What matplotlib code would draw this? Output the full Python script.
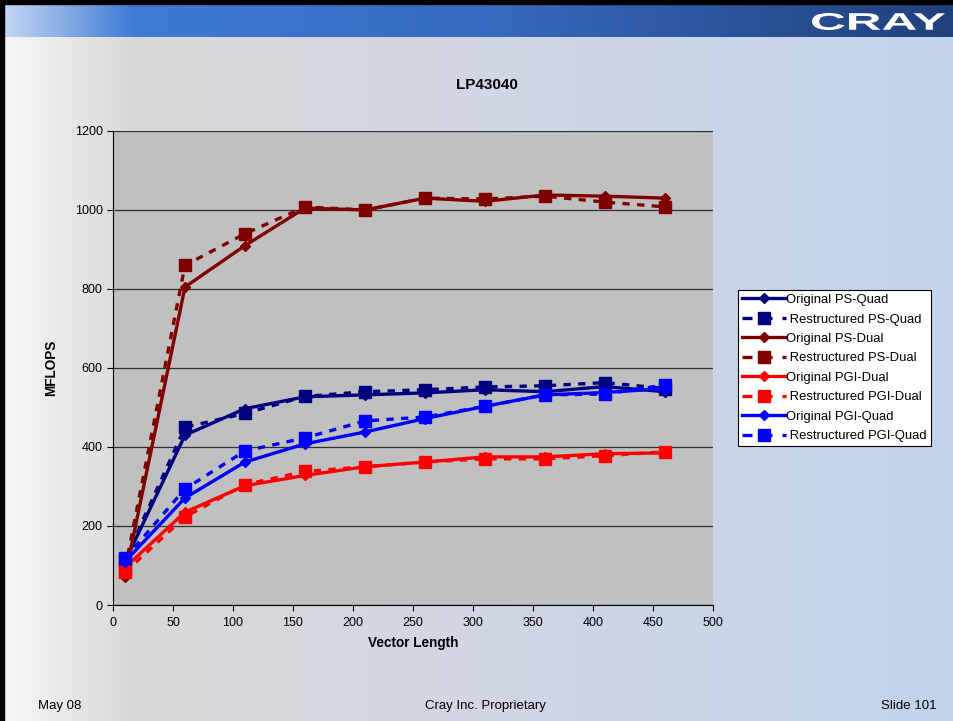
# LP43040 vector length vs MFLOPS slide

import numpy as np
import matplotlib.pyplot as plt
from matplotlib.lines import Line2D
from matplotlib.textpath import TextPath
from matplotlib.patches import PathPatch
from matplotlib.font_manager import FontProperties
from matplotlib.transforms import Affine2D

plt.rcParams['font.family'] = ['Liberation Sans', 'DejaVu Sans']

vector_length = [10, 60, 110, 160, 210, 260, 310, 360, 410, 460]

orig_ps_quad = [110, 430, 497, 527, 532, 537, 545, 540, 553, 540]
rest_ps_quad = [115, 450, 485, 528, 540, 545, 552, 555, 563, 548]
orig_ps_dual = [72, 805, 910, 1005, 1000, 1030, 1022, 1038, 1035, 1030]
rest_ps_dual = [90, 860, 940, 1008, 1000, 1030, 1028, 1035, 1020, 1008]
orig_pgi_dual = [95, 235, 302, 328, 350, 362, 375, 375, 383, 385]
rest_pgi_dual = [83, 223, 305, 338, 350, 362, 370, 370, 378, 388]
orig_pgi_quad = [110, 271, 362, 408, 438, 472, 503, 532, 538, 548]
rest_pgi_quad = [118, 294, 390, 423, 466, 476, 503, 532, 534, 557]

series = [
    ('Original PS-Quad', orig_ps_quad, '#000080', False),
    ('Restructured PS-Quad', rest_ps_quad, '#000080', True),
    ('Original PS-Dual', orig_ps_dual, '#800000', False),
    ('Restructured PS-Dual', rest_ps_dual, '#800000', True),
    ('Original PGI-Dual', orig_pgi_dual, '#ff0000', False),
    ('Restructured PGI-Dual', rest_pgi_dual, '#ff0000', True),
    ('Original PGI-Quad', orig_pgi_quad, '#0000ff', False),
    ('Restructured PGI-Quad', rest_pgi_quad, '#0000ff', True),
]

W, H = 954, 721
fig = plt.figure(figsize=(W / 100, H / 100), dpi=100)

# slide background
bg = fig.add_axes([0, 0, 1, 1])
bg.set_xlim(0, W)
bg.set_ylim(H, 0)
bg.axis('off')

xs = np.linspace(0, 1, 400)

def grad(stops):
    pos = [s[0] for s in stops]
    cols = np.array([s[1] for s in stops])
    return np.stack([np.interp(xs, pos, cols[:, i]) for i in range(3)], axis=-1)

body = grad([(0, (0.97, 0.97, 0.97)), (0.14, (0.85, 0.85, 0.85)),
             (0.5, (0.82, 0.84, 0.89)), (1, (0.76, 0.83, 0.93))])
bg.imshow(body[None, :, :], extent=[0, W, H, 37], aspect='auto')
banner = grad([(0, (0.78, 0.85, 0.95)), (0.14, (0.24, 0.48, 0.84)),
               (0.5, (0.22, 0.42, 0.76)), (1, (0.13, 0.25, 0.48))])
bg.imshow(banner[None, :, :], extent=[0, W, 37, 4], aspect='auto')
bg.add_patch(plt.Rectangle((0, 0), W, 4, color='black'))
bg.add_patch(plt.Rectangle((0, 0), 4, H, color='black'))

# logo, stretched wide
tp = TextPath((0, 0), 'CRAY', size=10, prop=FontProperties(family='Liberation Sans', weight='bold'))
ext = tp.get_extents()
sx = 133 / ext.width
sy = 17 / ext.height
tr = Affine2D().translate(-ext.x0, -ext.y0).scale(sx, -sy).translate(812, 30)
bg.add_patch(PathPatch(tr.transform_path(tp), color='white', lw=0))

bg.text(38, 706, 'May 08', fontsize=9.5, va='center')
bg.text(485, 706, 'Cray Inc. Proprietary', fontsize=9.5, ha='center', va='center')
bg.text(937, 706, 'Slide 101', fontsize=9.5, ha='right', va='center')
bg.text(487, 85, 'LP43040', fontsize=11, fontweight='bold', ha='center', va='center')

ax = fig.add_axes([113 / W, 116 / H, 600 / W, 474 / H])
ax.set_facecolor('#c0c0c0')
for name, vals, col, dashed in series:
    ax.plot(vector_length, vals, color=col, lw=2.4,
            ls=(0, (2.2, 2.2)) if dashed else '-',
            marker='s' if dashed else 'D', ms=9 if dashed else 5.5,
            mec=col, mfc=col, label=name)

ax.set_xlim(0, 500)
ax.set_ylim(0, 1200)
ax.set_xticks(range(0, 501, 50))
ax.set_yticks(range(0, 1201, 200))
ax.yaxis.grid(True, color='#303030', lw=0.9)
ax.set_axisbelow(True)
ax.spines['top'].set_visible(False)
ax.spines['right'].set_visible(False)
ax.tick_params(labelsize=9, length=4, direction='out')
ax.tick_params(axis='x', pad=4.5)
ax.set_xlabel('Vector Length', fontsize=9.8, fontweight='bold', labelpad=5)
ax.set_ylabel('MFLOPS', fontsize=9.8, fontweight='bold', labelpad=12)

handles = []
for name, vals, col, dashed in series:
    if dashed:
        handles.append(Line2D([], [], color=col, lw=2.4, ls=(0, (3, 3)),
                              marker='s', ms=8, label=name))
    else:
        handles.append(Line2D([], [], color=col, lw=2.4, marker='D', ms=5, label=name))
leg = fig.legend(handles=handles, loc='upper left', bbox_to_anchor=(738 / W, 1 - 290 / H),
                 fontsize=9.4, frameon=True, fancybox=False, edgecolor='black',
                 framealpha=1, borderpad=0.3, labelspacing=0.56, handlelength=3.4,
                 handletextpad=0.0, borderaxespad=0)
leg.get_frame().set_linewidth(0.8)
for t, (name, vals, col, dashed) in zip(leg.get_texts(), series):
    if dashed:
        t.set_text(' ' + name)

fig.savefig('out.png', dpi=100)
